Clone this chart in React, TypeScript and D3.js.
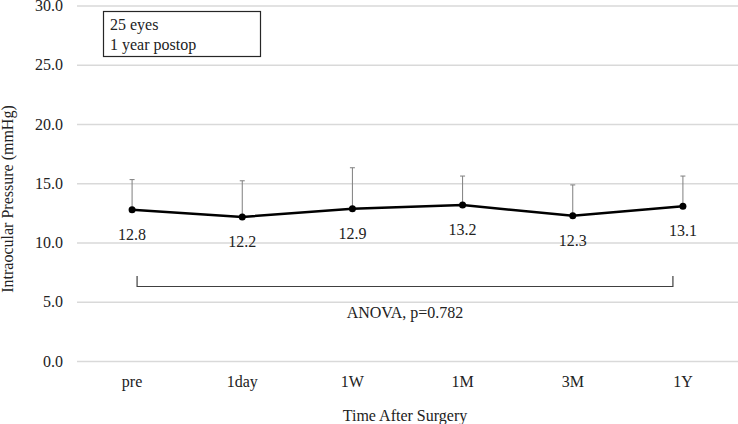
import { useEffect, useRef } from "react";
import * as d3 from "d3";

const categories = ["pre", "1day", "1W", "1M", "3M", "1Y"];
const means = [12.8, 12.2, 12.9, 13.2, 12.3, 13.1];
const sds = [2.55, 3.05, 3.45, 2.45, 2.6, 2.55];
const yTicks = [0, 5, 10, 15, 20, 25, 30];
const noteLines = ["25 eyes", "1 year postop"];
const statText = "ANOVA, p=0.782";

const W = 738;
const H = 424;
const FONT = "'Liberation Serif', 'Times New Roman', serif";

export default function App() {
  const ref = useRef<SVGSVGElement>(null);

  useEffect(() => {
    const svg = d3.select(ref.current);
    svg.selectAll("*").remove();

    const x = d3.scaleBand().domain(categories).range([77, 738]);
    const y = d3.scaleLinear().domain([0, 30]).range([361.5, 6]);
    const cx = (c: string) => (x(c) as number) + x.bandwidth() / 2;

    // gridlines + y labels
    const grid = svg.append("g");
    grid
      .selectAll("line")
      .data(yTicks)
      .join("line")
      .attr("x1", 77)
      .attr("x2", 738)
      .attr("y1", (d) => y(d))
      .attr("y2", (d) => y(d))
      .attr("stroke", "#d9d9d9")
      .attr("stroke-width", 1.5);
    grid
      .selectAll("text")
      .data(yTicks)
      .join("text")
      .attr("x", 63)
      .attr("y", (d) => y(d) + 5)
      .attr("text-anchor", "end")
      .attr("font-size", 16)
      .attr("fill", "#222")
      .text((d) => d.toFixed(1));

    // x labels
    svg
      .append("g")
      .selectAll("text")
      .data(categories)
      .join("text")
      .attr("x", (d) => cx(d))
      .attr("y", 387)
      .attr("text-anchor", "middle")
      .attr("font-size", 16)
      .attr("fill", "#222")
      .text((d) => d);

    // error bars (upper only)
    const err = svg.append("g").attr("stroke", "#7f7f7f").attr("stroke-width", 1);
    categories.forEach((c, i) => {
      const top = y(means[i] + sds[i]);
      err
        .append("line")
        .attr("x1", cx(c))
        .attr("x2", cx(c))
        .attr("y1", y(means[i]))
        .attr("y2", top);
      err
        .append("line")
        .attr("x1", cx(c) - 2.5)
        .attr("x2", cx(c) + 2.5)
        .attr("y1", top)
        .attr("y2", top);
    });

    // mean line
    const line = d3
      .line<number>()
      .x((_, i) => cx(categories[i]))
      .y((d) => y(d));
    svg
      .append("path")
      .attr("d", line(means))
      .attr("fill", "none")
      .attr("stroke", "#000")
      .attr("stroke-width", 2.5);
    svg
      .append("g")
      .selectAll("circle")
      .data(means)
      .join("circle")
      .attr("cx", (_, i) => cx(categories[i]))
      .attr("cy", (d) => y(d))
      .attr("r", 3.5)
      .attr("fill", "#000");

    // value labels
    svg
      .append("g")
      .selectAll("text")
      .data(means)
      .join("text")
      .attr("x", (_, i) => cx(categories[i]))
      .attr("y", (d) => y(d) + 30)
      .attr("text-anchor", "middle")
      .attr("font-size", 16)
      .attr("fill", "#222")
      .text((d) => d.toFixed(1));

    // bracket
    const bx1 = cx(categories[0]) + 5;
    const bx2 = cx(categories[categories.length - 1]) - 10;
    svg
      .append("path")
      .attr("d", `M${bx1},276V286.5H${bx2}V276`)
      .attr("fill", "none")
      .attr("stroke", "#404040")
      .attr("stroke-width", 1.2);
    svg
      .append("text")
      .attr("x", (bx1 + bx2) / 2)
      .attr("y", 318)
      .attr("text-anchor", "middle")
      .attr("font-size", 16)
      .attr("fill", "#222")
      .text(statText);

    // note box
    svg
      .append("rect")
      .attr("x", 103.5)
      .attr("y", 11.5)
      .attr("width", 157)
      .attr("height", 45)
      .attr("fill", "#fff")
      .attr("stroke", "#262626")
      .attr("stroke-width", 1.2);
    svg
      .append("g")
      .selectAll("text")
      .data(noteLines)
      .join("text")
      .attr("x", 110)
      .attr("y", (_, i) => 30 + i * 20)
      .attr("font-size", 16)
      .attr("fill", "#222")
      .text((d) => d);

    // axis titles
    svg
      .append("text")
      .attr("transform", "translate(13,199) rotate(-90)")
      .attr("text-anchor", "middle")
      .attr("font-size", 16)
      .attr("fill", "#222")
      .text("Intraocular Pressure (mmHg)");
    svg
      .append("text")
      .attr("x", 405)
      .attr("y", 421)
      .attr("text-anchor", "middle")
      .attr("font-size", 16)
      .attr("fill", "#222")
      .text("Time After Surgery");
  }, []);

  return (
    <svg
      ref={ref}
      width={W}
      height={H}
      style={{ position: "fixed", left: 0, top: 0, fontFamily: FONT, background: "#fff" }}
    />
  );
}
